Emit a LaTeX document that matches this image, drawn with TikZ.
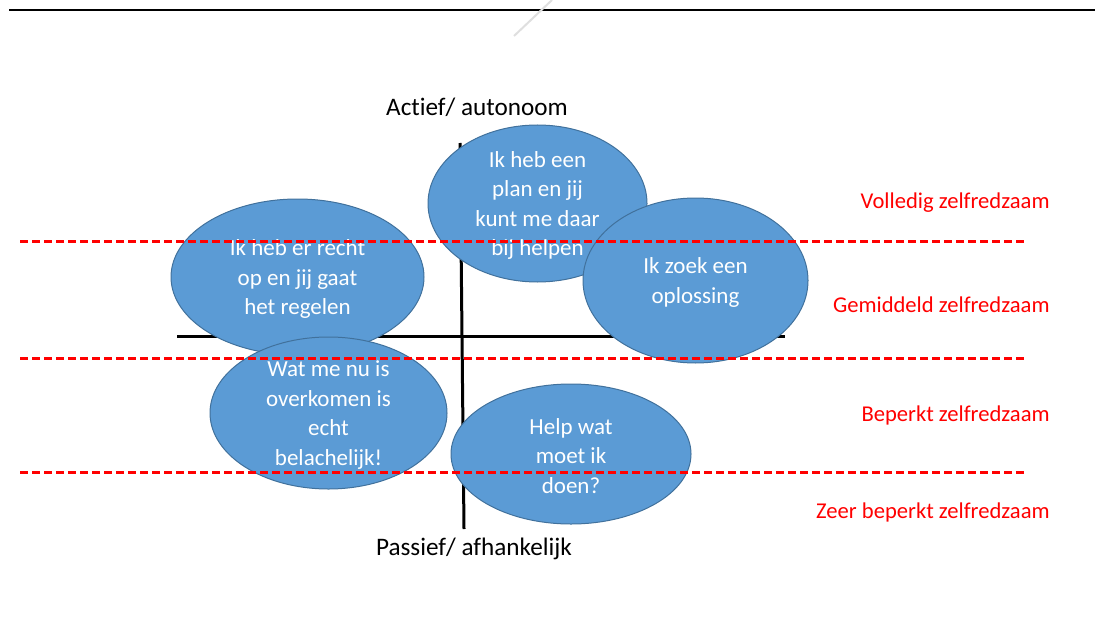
\documentclass[tikz,border=0pt]{standalone}
\usepackage{fontspec}
\setmainfont{Carlito}[Ligatures=CommonOff]
\usepackage{tikz}
\usetikzlibrary{positioning,calc,shapes.geometric}

\definecolor{bubbleblue}{HTML}{5B9BD5}
\definecolor{bubbleedge}{HTML}{41719C}
\definecolor{levelred}{HTML}{FF0000}

\tikzset{
  bubble/.style={ellipse, fill=bubbleblue, draw=bubbleedge, line width=0.5pt, inner sep=0pt},
  bubbletext/.style={align=center, text=white, yshift=-1pt, font=\fontsize{11.5}{14.8}\selectfont},
  axislabel/.style={font=\fontsize{12.6}{15}\selectfont},
  levellabel/.style={anchor=east, inner sep=0pt, text=levelred, font=\fontsize{11.3}{13}\selectfont},
  levelline/.style={levelred, line width=1.5pt, dash pattern=on 4pt off 2pt}
}

\begin{document}
\begin{tikzpicture}[x=0.5pt, y=-0.5pt]
  \useasboundingbox (0, 0) rectangle (1095, 636);

  \path
  (9, 10) coordinate (TL) (1095, 10) coordinate (TR)
  (552, 0) coordinate (S1) (514, 36) coordinate (S2)
  (460, 143) coordinate (N) (464, 529) coordinate (S)
  (177, 336) coordinate (W) (785, 336) coordinate (E);

  \draw[line width=1pt] (TL) -- (TR);
  \draw[gray!25, line width=1pt] (S1) -- (S2);

  % assen
  \draw[line width=1.5pt] (W) -- (E);
  \draw[line width=1.5pt] (N) -- (S);

  \node[axislabel] (actief) at (477, 107) {Actief/ autonoom};
  \node[axislabel] (passief) at (474, 549) {Passief/ afhankelijk};

  % ellipsen
  \node[bubble, minimum width=126.5pt, minimum height=78pt] (recht) at (297.5, 277) {};
  \node[bubbletext] (rechttext) at (recht) {Ik heb er recht\\op en jij gaat\\het regelen};

  \node[bubble, minimum width=118.5pt, minimum height=76pt] (belachelijk) at (328.5, 413) {};
  \node[bubbletext] (belachelijktext) at (belachelijk) {Wat me nu is\\overkomen is\\echt\\belachelijk!};

  \node[bubble, minimum width=109.5pt, minimum height=78.5pt] (plan) at (537.5, 203.5) {};
  \node[bubbletext] (plantext) at (plan) {Ik heb een\\plan en jij\\kunt me daar\\bij helpen};

  \node[bubble, minimum width=112.5pt, minimum height=82.5pt] (oplossing) at (695.5, 280.5) {};
  \node[bubbletext] (oplossingtext) at (oplossing) {Ik zoek een\\oplossing};

  \node[bubble, minimum width=120pt, minimum height=70pt] (doen) at (571, 454) {};
  \node[bubbletext] (doentext) at (doen) {Help wat\\moet ik\\doen?};

  % niveaus
  \foreach \y [count=\i] in {241, 358, 472} {
    \path (20, \y) coordinate (L\i) (1024, \y) coordinate (R\i);
    \draw[levelline] (L\i) -- (R\i);
  }

  \node[levellabel] (volledig) at (1050, 203) {Volledig zelfredzaam};
  \node[levellabel] (gemiddeld) at (1050, 305) {Gemiddeld zelfredzaam};
  \node[levellabel] (beperkt) at (1050, 415) {Beperkt zelfredzaam};
  \node[levellabel] (zeer) at (1050, 512) {Zeer beperkt zelfredzaam};
\end{tikzpicture}
\end{document}
